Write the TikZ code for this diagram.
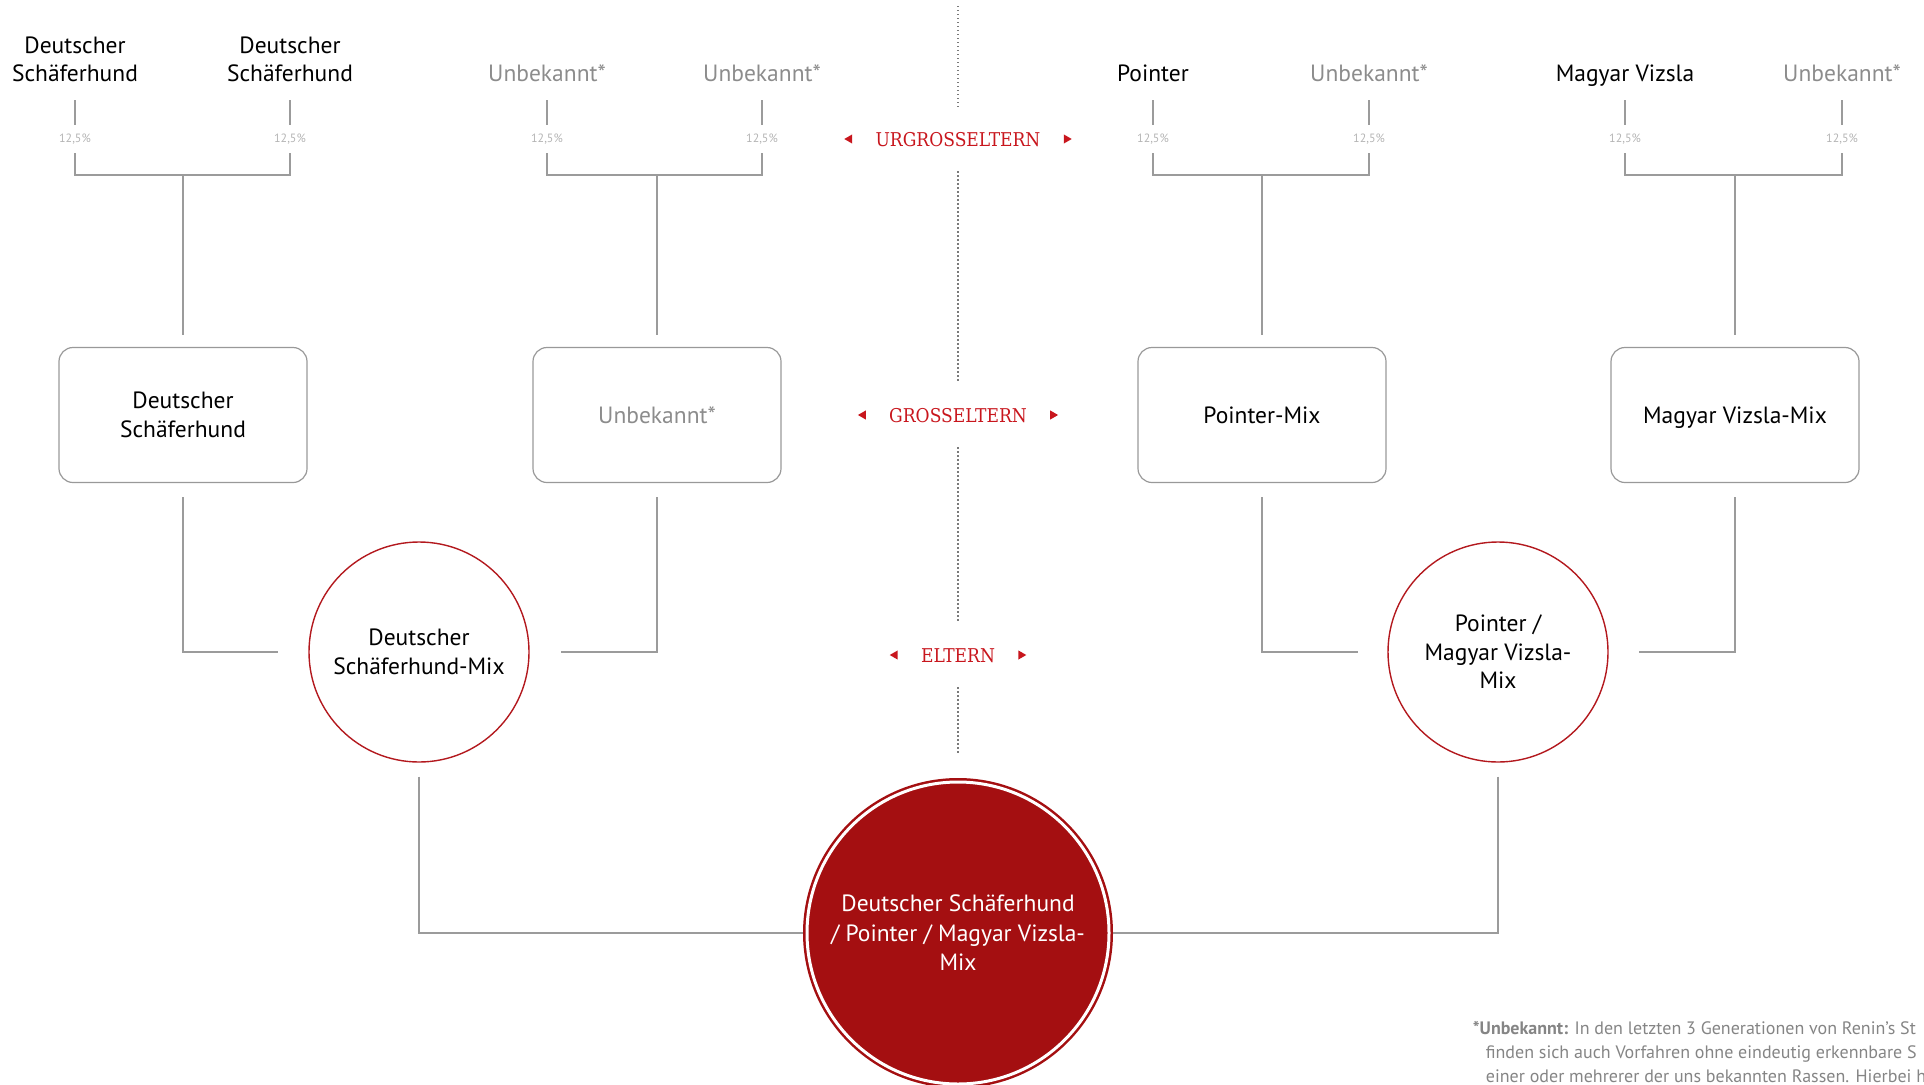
\documentclass[tikz,border=0pt]{standalone}
\usepackage{fontspec}
\setmainfont{PT Sans}
\newfontfamily\stagefont{DejaVu Serif Condensed}
\usetikzlibrary{positioning,shapes.geometric}
\definecolor{linegray}{HTML}{9B9B9B}
\definecolor{boxgray}{HTML}{999999}
\definecolor{dotgray}{HTML}{7A7A7A}
\definecolor{unkgray}{HTML}{8C8C8C}
\definecolor{pctgray}{HTML}{B4B4B4}
\definecolor{notegray}{HTML}{858585}
\definecolor{ringred}{HTML}{B3191E}
\definecolor{kidred}{HTML}{A40F11}
\definecolor{lblred}{HTML}{C8161D}
\tikzset{
  anc/.style={inner sep=0pt,align=center,text depth=0pt,anchor=south,
    font=\fontsize{23.5}{28}\selectfont},
  unk/.style={text=unkgray},
  pct/.style={inner sep=0pt,minimum height=28pt,text=pctgray,
    font=\fontsize{12}{14}\selectfont},
  gpbox/.style={rectangle,rounded corners=14pt,draw=boxgray,line width=1.2pt,
    minimum width=248pt,minimum height=135pt,align=center,
    font=\fontsize{23.5}{29}\selectfont},
  parent/.style={circle,draw=ringred,line width=1.4pt,minimum size=220pt,
    align=center,font=\fontsize{23.5}{28.5}\selectfont},
  kid/.style={circle,fill=kidred,draw=kidred,double=white,double distance=3pt,
    line width=2.5pt,minimum size=302pt,outer sep=4pt,align=center,text=white,
    font=\fontsize{23.5}{29.5}\selectfont},
  stage/.style={inner sep=0pt,text height=14pt,text depth=0pt,text=lblred,
    font=\stagefont\fontsize{19}{22}\selectfont},
  tri/.style={regular polygon,regular polygon sides=3,fill=lblred,
    inner sep=0pt,minimum size=10.5pt},
  link/.style={draw=linegray,line width=1.4pt},
  sep/.style={draw=dotgray,line width=1.3pt,dash pattern=on 1.3pt off 2.7pt,
    shorten <=25pt,shorten >=25pt},
  note/.style={inner sep=0pt,align=left,anchor=north west,text=notegray,
    font=\fontsize{18}{24}\selectfont},
}
\begin{document}
\begin{tikzpicture}[x=1pt,y=-1pt]
  \useasboundingbox (0,0) rectangle (1924,1084);
  \clip (0,0) rectangle (1924,1084);
  % great-grandparents
  \node[anc] (g1) at (75,82) {Deutscher\\Schäferhund};
  \node[anc] (g2) at (290,82) {Deutscher\\Schäferhund};
  \node[anc,unk] (g3) at (547,82) {Unbekannt*};
  \node[anc,unk] (g4) at (762,82) {Unbekannt*};
  \node[anc] (g5) at (1153,82) {Pointer};
  \node[anc,unk] (g6) at (1369,82) {Unbekannt*};
  \node[anc] (g7) at (1625,82) {Magyar Vizsla};
  \node[anc,unk] (g8) at (1842,82) {Unbekannt*};
  \foreach \i in {1,...,8}{
    \node[pct,below=43pt of g\i] (p\i) {12,5\%};
    \draw[link,shorten <=18pt] (g\i) -- (p\i);
  }
  % grandparents
  \node[gpbox] (gp1) at (183,415) {Deutscher\\Schäferhund};
  \node[gpbox,text=unkgray] (gp2) at (657,415) {Unbekannt*};
  \node[gpbox] (gp3) at (1262,415) {Pointer-Mix};
  \node[gpbox,text depth=0pt] (gp4) at (1735,415) {Magyar Vizsla-Mix};
  \coordinate (fork) at (0,175);
  \foreach \k/\a/\b in {1/1/2,2/3/4,3/5/6,4/7/8}{
    \draw[link] (p\a.south) |- (gp\k |- fork) -| (p\b.south);
    \draw[link,shorten >=12pt] (gp\k |- fork) -- (gp\k);
  }
  % parents
  \node[parent] (c1) at (419,652) {Deutscher\\Schäferhund-Mix};
  \node[parent] (c2) at (1498,652) {Pointer /\\Magyar Vizsla-\\Mix};
  \draw[link,shorten <=14pt,shorten >=30pt] (gp1) |- (c1);
  \draw[link,shorten <=14pt,shorten >=31pt] (gp2) |- (c1);
  \draw[link,shorten <=14pt,shorten >=29pt] (gp3) |- (c2);
  \draw[link,shorten <=14pt,shorten >=30pt] (gp4) |- (c2);
  % the dog
  \node[kid] (kid) at (958,933) {Deutscher Schäferhund\\/ Pointer / Magyar Vizsla-\\Mix};
  \draw[link,shorten <=14pt] (c1) |- (kid);
  \draw[link,shorten <=14pt] (c2) |- (kid);
  % generation labels
  \node[stage] (urg) at (958,139) {URGROSSELTERN};
  \node[stage] (gross) at (958,415) {GROSSELTERN};
  \node[stage] (eltern) at (958,655) {ELTERN};
  \foreach \s in {urg,gross,eltern}{
    \node[tri,shape border rotate=90,left=23pt of \s] {};
    \node[tri,shape border rotate=-90,right=23pt of \s] {};
  }
  \coordinate (axis) at (958,-19);
  \draw[sep] (axis) -- (urg);
  \draw[sep] (urg) -- (gross);
  \draw[sep] (gross) -- (eltern);
  \draw[sep] (eltern) -- (kid);
  % footnote
  \node[note] (fn) at (1472.7,1021) {\textbf{*Unbekannt:} In den letzten 3 Generationen von Renin’s St\\
    \hspace*{13pt}finden sich auch Vorfahren ohne eindeutig erkennbare S\\
    \hspace*{13pt}einer oder mehrerer der uns bekannten Rassen. Hierbei h};
\end{tikzpicture}
\end{document}
